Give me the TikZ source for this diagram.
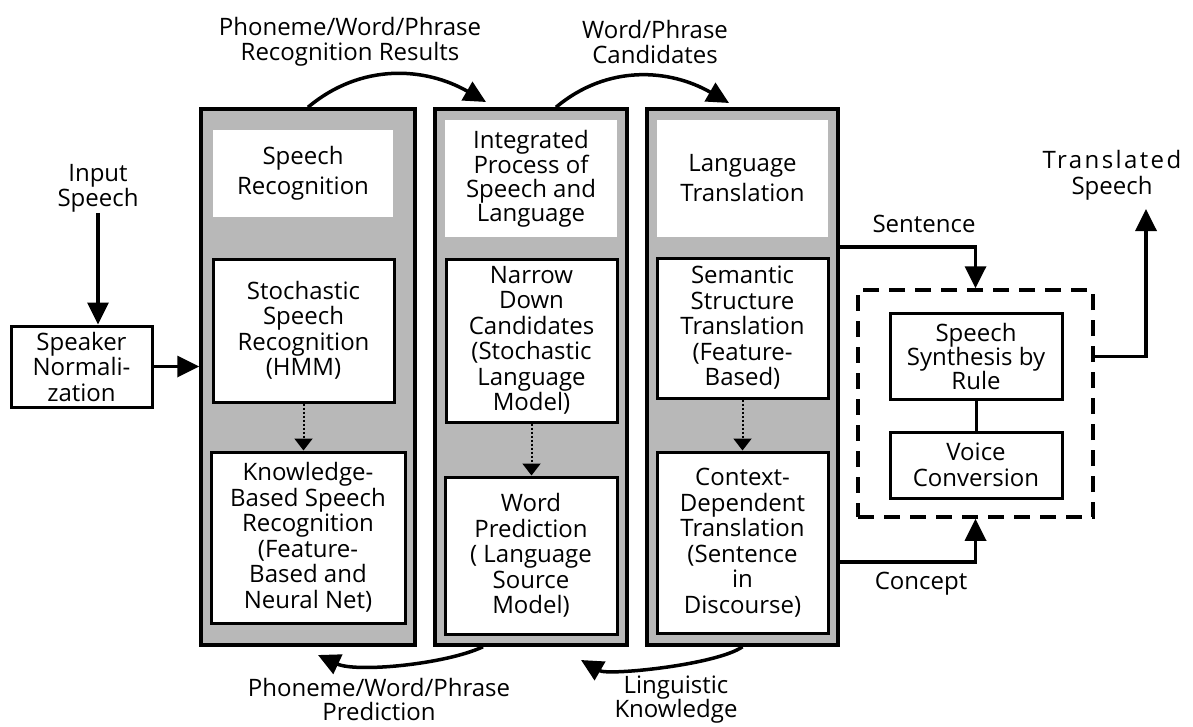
\documentclass[tikz,border=0pt]{standalone}
\usepackage{fontspec}
\setmainfont{Open Sans}
\usetikzlibrary{arrows.meta}

\begin{document}
\begin{tikzpicture}[
  x=1pt, y=-1pt,
  every node/.style={align=center,inner sep=0pt,font=\fontsize{24}{25.5}\selectfont},
  column/.style={draw,line width=3.5pt,fill=black!28},
  head/.style={fill=white},
  box/.style={draw,line width=3pt,fill=white},
  loose/.style={font=\fontsize{24}{30}\selectfont},
  tight/.style={font=\fontsize{24}{24}\selectfont},
  >={Triangle[length=22pt,width=21pt]},
  arr/.style={line width=3.5pt,->},
  dotarr/.style={line width=2pt,dotted,-{Triangle[length=12pt,width=18pt]}}
]
  \useasboundingbox (0,0) rectangle (1193,726);

  % input side
  \node (inp) at (98,188.5) {Input\\Speech};
  \node[box,minimum width=141pt,minimum height=81pt] (spk) at (81.5,366.5) {Speaker\\Normali-\\zation};

  % the three columns
  \node[column,minimum width=214pt,minimum height=536pt] (col1) at (308,377) {};
  \node[column,minimum width=192pt,minimum height=536pt] (col2) at (531,377) {};
  \node[column,minimum width=191pt,minimum height=536pt] (col3) at (742.5,377) {};

  \node[head,loose,minimum width=180pt,minimum height=87pt]  (h1) at (303,173.5) {Speech\\Recognition};
  \node[head,tight,minimum width=172pt,minimum height=117pt] (h2) at (531,178.5) {Integrated\\Process of\\Speech and\\Language};
  \node[head,loose,minimum width=171pt,minimum height=117pt] (h3) at (742.5,178.5) {Language\\Translation};

  \node[box,minimum width=181pt,minimum height=143pt] (sr) at (303.5,330.5) {Stochastic\\Speech\\Recognition\\(HMM)};
  \node[box,minimum width=194pt,minimum height=171pt] (kb) at (308,537.5) {Knowledge-\\Based Speech\\Recognition\\(Feature-\\Based and\\Neural Net)};
  \node[box,minimum width=171pt,minimum height=163pt] (nd) at (531.5,340.5) {Narrow\\Down\\Candidates\\(Stochastic\\Language\\Model)};
  \node[box,minimum width=172pt,minimum height=157pt] (wp) at (531,555.5) {Word\\Prediction\\( Language\\Source\\Model)};
  \node[box,minimum width=171pt,minimum height=140pt] (ss) at (742.5,328) {Semantic\\Structure\\Translation\\(Feature-\\Based)};
  \node[box,minimum width=171pt,minimum height=181pt] (cd) at (742.5,542.5) {Context-\\Dependent\\Translation\\(Sentence\\in\\Discourse)};

  \draw[dotarr] (sr.south) -- (sr.south |- kb.north);
  \draw[dotarr] (nd.south) -- (nd.south |- wp.north);
  \draw[dotarr] (ss.south) -- (ss.south |- cd.north);

  % synthesis
  \node[draw,line width=3.5pt,dash pattern=on 16pt off 10pt,minimum width=235pt,minimum height=227pt] (synth) at (975.5,403.5) {};
  \node[box,tight,minimum width=172pt,minimum height=86pt] (syn) at (976,356) {Speech\\Synthesis by\\Rule};
  \node[box,minimum width=172pt,minimum height=66pt] (vc) at (976,465) {Voice\\Conversion};
  \draw[line width=3pt] (syn) -- (vc);

  % labels
  \node (rr) at (350,42) {Phoneme/Word/Phrase\\Recognition Results};
  \node (wc) at (655,42) {Word/Phrase\\Candidates};
  \node[tight] (pp) at (379,699) {Phoneme/Word/Phrase\\Prediction};
  \node[tight] (lk) at (676,700) {Linguistic\\Knowledge};
  \node (sent) at (924,223.5) {Sentence};
  \node (conc) at (921,584) {Concept};
  \node (tsp) at (1112,175.5) {{\addfontfeatures{LetterSpace=10}Translated}\\Speech};

  \coordinate (t1) at (486,102);
  \coordinate (t2) at (729,103);
  \coordinate (b1) at (318,655);
  \coordinate (b2) at (581,660);
  \coordinate (out) at (1146,209);

  \draw[arr] (inp.south) -- (inp.south |- spk.north);
  \draw[arr] (spk.east) -- (spk.east -| col1.west);
  \draw[arr] (col1.north) to[out=40,in=150] (t1);
  \draw[arr] ([xshift=25pt]col2.north) to[out=40,in=150] (t2);
  \draw[arr] ([xshift=-48pt]col2.south) to[out=205,in=-25,looseness=0.65] (b1);
  \draw[arr] (col3.south) to[out=215,in=-30,looseness=0.5] (b2);
  \draw[arr] ([yshift=130pt]col3.east) -| (synth.north);
  \draw[arr] ([yshift=-185pt]col3.east) -| (synth.south);
  \draw[arr] ([yshift=47pt]synth.east) -| (out);
\end{tikzpicture}
\end{document}
